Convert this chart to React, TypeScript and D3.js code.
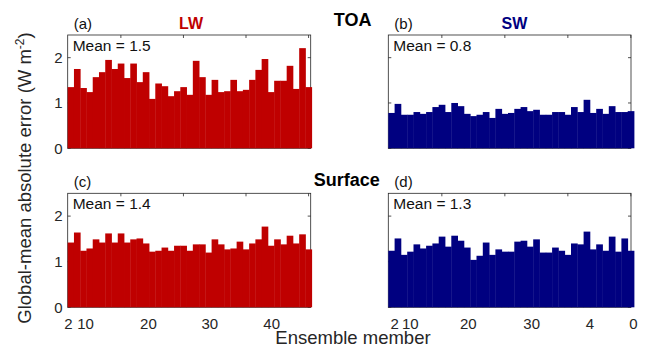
import * as d3 from "d3";

// ensemble members shown (39 bars per panel)
const MEMBERS = d3.range(1, 40);

// global-mean absolute error (W m-2)
const LW_TOA = [1.35, 1.75, 1.33, 1.24, 1.57, 1.68, 1.95, 1.75, 1.87, 1.55, 1.87, 1.46, 1.68, 1.09, 1.43, 1.37, 1.15, 1.26, 1.35, 1.18, 1.93, 1.57, 1.18, 1.51, 1.24, 1.26, 1.51, 1.26, 1.29, 1.51, 1.73, 1.97, 1.24, 1.49, 1.49, 1.82, 1.31, 2.21, 1.35];
const SW_TOA = [0.78, 0.98, 0.74, 0.74, 0.8, 0.76, 0.8, 0.91, 0.96, 0.8, 1.0, 0.93, 0.76, 0.71, 0.74, 0.8, 0.67, 0.87, 0.76, 0.78, 0.87, 0.91, 0.82, 0.85, 0.74, 0.74, 0.8, 0.8, 0.74, 0.91, 0.8, 1.07, 0.78, 0.87, 0.76, 0.93, 0.8, 0.8, 0.82];
const LW_SFC = [1.42, 1.64, 1.24, 1.29, 1.49, 1.42, 1.62, 1.42, 1.62, 1.42, 1.49, 1.51, 1.4, 1.22, 1.24, 1.31, 1.24, 1.35, 1.35, 1.24, 1.38, 1.38, 1.2, 1.49, 1.38, 1.27, 1.29, 1.44, 1.27, 1.4, 1.49, 1.77, 1.35, 1.49, 1.38, 1.57, 1.4, 1.6, 1.27];
const SW_SFC = [1.24, 1.51, 1.15, 1.22, 1.38, 1.29, 1.35, 1.4, 1.55, 1.33, 1.57, 1.46, 1.31, 1.04, 1.13, 1.42, 1.15, 1.27, 1.22, 1.22, 1.44, 1.46, 1.33, 1.49, 1.2, 1.2, 1.31, 1.24, 1.15, 1.4, 1.38, 1.66, 1.27, 1.38, 1.24, 1.55, 1.22, 1.51, 1.24];

const MEANS = ["1.5", "0.8", "1.4", "1.3"];
const TAGS = ["(a)", "(b)", "(c)", "(d)"];

const Y_TICKS = [0, 1, 2];
const TOP_TICKS = [9, 19, 29, 39];
const LEFT_XLABELS = ["2", "10", "20", "30", "40"];
const LEFT_XLABEL_AT = [0.6, 3.35, 13.4, 23.2, 33.1];
const RIGHT_XLABELS = ["2", "10", "20", "30", "4", "0"];
const RIGHT_XLABEL_AT = [1.5, 4.0, 13.2, 23.26, 32.5, 39.4];

const RED = "#bf0000";
const BLUE = "#000080";
const AXIS = "#262626";
const FONT = "'Liberation Sans', Arial, sans-serif";

type PanelProps = {
  values: number[];
  color: string;
  x0: number;
  x1: number;
  boxRight: number;
  yTop: number;
  yBottom: number;
  tag: string;
  mean: string;
  yLabels: boolean;
  xLabels: string[];
  xLabelAt: number[];
};

function Panel(p: PanelProps) {
  const x = d3.scaleLinear().domain([0.5, 39.5]).range([p.x0, p.x1]);
  const y = d3.scaleLinear().domain([0, 2.5]).range([p.yBottom, p.yTop]);
  const left = p.x0;
  const right = p.boxRight;

  return (
    <g fontFamily={FONT}>
      <rect x={left} y={p.yTop} width={right - left} height={p.yBottom - p.yTop} fill="white" stroke={AXIS} strokeWidth={0.8} />
      {Y_TICKS.map((t) => (
        <g key={t}>
          <line x1={left} x2={left + 3} y1={y(t)} y2={y(t)} stroke={AXIS} strokeWidth={0.8} />
          <line x1={right} x2={right - 3} y1={y(t)} y2={y(t)} stroke={AXIS} strokeWidth={0.8} />
          {p.yLabels && (
            <text x={left - 5} y={y(t) + 5.3} textAnchor="end" fontSize={15} fill={AXIS}>
              {t}
            </text>
          )}
        </g>
      ))}
      {TOP_TICKS.map((t) => (
        <line key={t} x1={x(t)} x2={x(t)} y1={p.yTop} y2={p.yTop + 3} stroke={AXIS} strokeWidth={0.8} />
      ))}
      {MEMBERS.map((m, i) => (
        <rect
          key={m}
          x={x(m - 0.5)}
          y={y(p.values[i])}
          width={x(m + 0.5) - x(m - 0.5) + 0.4}
          height={p.yBottom - y(p.values[i])}
          fill={p.color}
        />
      ))}
      {p.xLabels.map((l, i) => (
        <text key={i} x={x(p.xLabelAt[i])} y={328.5} textAnchor="middle" fontSize={15} fill={AXIS}>
          {l}
        </text>
      ))}
      <text x={left + 5} y={p.yTop + 16} fontSize={15.5} fill="#111">
        Mean = {p.mean}
      </text>
      <text x={left + 6} y={p.yTop - 6} fontSize={15} fill="#111">
        {p.tag}
      </text>
    </g>
  );
}

export default function App() {
  const cols = [
    { x0: 67.7, x1: 311.7, boxRight: 310.7 },
    { x0: 388.3, x1: 634, boxRight: 631 },
  ];
  const rows = [
    { yTop: 35, yBottom: 148.3 },
    { yTop: 193.3, yBottom: 307.3 },
  ];
  const series = [LW_TOA, SW_TOA, LW_SFC, SW_SFC];

  return (
    <div style={{ position: "absolute", left: 0, top: 0 }}>
      <svg width={646} height={346} style={{ display: "block", background: "white" }}>
        {series.map((vals, k) => {
          const c = cols[k % 2];
          const r = rows[Math.floor(k / 2)];
          return (
            <Panel
              key={k}
              values={vals}
              color={k % 2 === 0 ? RED : BLUE}
              x0={c.x0}
              x1={c.x1}
              boxRight={c.boxRight}
              yTop={r.yTop}
              yBottom={r.yBottom}
              tag={TAGS[k]}
              mean={MEANS[k]}
              yLabels={k % 2 === 0}
              xLabels={r.yTop > 100 ? (k % 2 === 0 ? LEFT_XLABELS : RIGHT_XLABELS) : []}
              xLabelAt={k % 2 === 0 ? LEFT_XLABEL_AT : RIGHT_XLABEL_AT}
            />
          );
        })}
        <g fontFamily={FONT} fontWeight="bold" textAnchor="middle">
          <text x={191} y={29} fontSize={16} fill={RED}>LW</text>
          <text x={514.5} y={29} fontSize={16} fill={BLUE}>SW</text>
          <text x={352.7} y={26} fontSize={18} fill="#000">TOA</text>
          <text x={346.7} y={185.7} fontSize={18} fill="#000">Surface</text>
        </g>
        <text x={353} y={343.5} textAnchor="middle" fontFamily={FONT} fontSize={18.5} fill={AXIS}>
          Ensemble member
        </text>
        <text
          transform="translate(31,178) rotate(-90)"
          textAnchor="middle"
          fontFamily={FONT}
          fontSize={18.5}
          fill={AXIS}
        >
          Global-mean absolute error (W m
          <tspan fontSize={12} dy={-7}>-2</tspan>
          <tspan dy={7}>)</tspan>
        </text>
      </svg>
    </div>
  );
}
